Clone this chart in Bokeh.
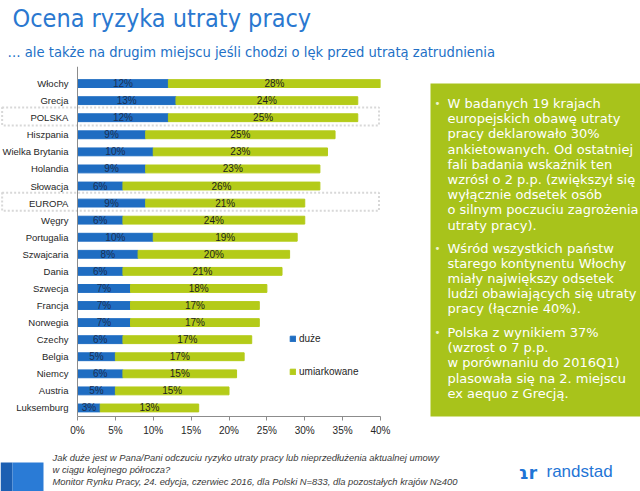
from bokeh.plotting import figure
from bokeh.layouts import column, row
from bokeh.models import (Range1d, FixedTicker, PrintfTickFormatter, Label, BoxAnnotation,
                          ColumnDataSource, Legend, LegendItem, Span)
from bokeh.core.properties import value
from bokeh.embed import file_html
from bokeh.resources import INLINE

# ---------------- data ----------------
countries = ["Włochy", "Grecja", "POLSKA", "Hiszpania", "Wielka Brytania", "Holandia",
             "Słowacja", "EUROPA", "Węgry", "Portugalia", "Szwajcaria", "Dania", "Szwecja",
             "Francja", "Norwegia", "Czechy", "Belgia", "Niemcy", "Austria", "Luksemburg"]
duze = [12, 13, 12, 9, 10, 9, 6, 9, 6, 10, 8, 6, 7, 7, 7, 6, 5, 6, 5, 3]
umiarkowane = [28, 24, 25, 25, 23, 23, 26, 21, 24, 19, 20, 21, 18, 17, 17, 17, 17, 15, 15, 13]
x_ticks = [0, 5, 10, 15, 20, 25, 30, 35, 40]
highlighted = ["POLSKA", "EUROPA"]
series_names = ["duże", "umiarkowane"]

title = "Ocena ryzyka utraty pracy"
subtitle = "… ale także na drugim miejscu jeśli chodzi o lęk przed utratą zatrudnienia"
box_paragraphs = [
    ["W badanych 19 krajach", "europejskich obawę utraty", "pracy deklarowało 30%",
     "ankietowanych. Od ostatniej", "fali badania wskaźnik ten",
     "wzrósł o 2 p.p. (zwiększył się", "wyłącznie odsetek osób",
     "o silnym poczuciu zagrożenia", "utraty pracy)."],
    ["Wśród wszystkich państw", "starego kontynentu Włochy", "miały największy odsetek",
     "ludzi obawiających się utraty", "pracy (łącznie 40%)."],
    ["Polska z wynikiem 37%", "(wzrost o 7 p.p.", "w porównaniu do 2016Q1)",
     "plasowała się na 2. miejscu", "ex aequo z Grecją."],
]
footer = ["Jak duże jest w Pana/Pani odczuciu ryzyko utraty pracy lub nieprzedłużenia aktualnej umowy",
          "w ciągu kolejnego półrocza?",
          "Monitor Rynku Pracy, 24. edycja, czerwiec 2016, dla Polski N=833, dla pozostałych krajów N≥400"]

# ---------------- styling ----------------
BLUE = "#1f6dc2"
GREEN = "#b4cb19"
BOXGREEN = "#a8c31b"
TITLE_BLUE = "#2a78d0"
SANS = "Liberation Sans"
COND = "DejaVu Sans Condensed"
VERD = "DejaVu Sans"


def blank(w, h, x0, x1, y0, y1, **kw):
    """Decoration panel whose data units are the page's pixel coordinates."""
    f = figure(width=w, height=h, output_backend="svg", toolbar_location=None,
               x_axis_type=None, y_axis_type=None,
               x_range=Range1d(x0, x1), y_range=Range1d(y1, y0),
               min_border=0, **kw)
    f.outline_line_color = None
    f.xgrid.visible = False
    f.ygrid.visible = False
    return f


# ---------------- header ----------------
head = blank(640, 66, 0, 640, 0, 66)
head.add_layout(Label(x=12, y=18, text=title, text_baseline="middle", text_font=COND,
                      text_font_size="25px", text_color=TITLE_BLUE))
head.add_layout(Label(x=7, y=51, text=subtitle, text_baseline="middle", text_font=COND,
                      text_font_size="14.6px", text_color="#2270c6"))

# ---------------- main bar chart ----------------
n = len(countries)
ypos = [n - 1 - i for i in range(n)]
src = ColumnDataSource(dict(
    y=ypos,
    country=countries,
    duze=duze,
    total=[a + b for a, b in zip(duze, umiarkowane)],
    mid1=[a / 2 for a in duze],
    mid2=[a + b / 2 for a, b in zip(duze, umiarkowane)],
    lab1=[f"{a}%" for a in duze],
    lab2=[f"{b}%" for b in umiarkowane],
))

main = figure(width=422, height=379, output_backend="svg", toolbar_location=None,
              x_range=Range1d(-77 / 7.575, 40), y_range=Range1d(-0.5, n + 0.0),
              y_axis_type=None,
              min_border_left=0, min_border_right=42, min_border_top=0, min_border_bottom=29)
main.outline_line_color = None
main.xgrid.visible = False
main.ygrid.visible = False

r1 = main.hbar(y="y", left=0, right="duze", height=0.46, color=BLUE, source=src)
r2 = main.hbar(y="y", left="duze", right="total", height=0.46, color=GREEN, source=src)

main.text(x="mid1", y="y", text="lab1", source=src, text_align="center",
          text_baseline="middle", text_font=value(SANS), text_font_size="10px",
          text_color="#1b2f52")
main.text(x="mid2", y="y", text="lab2", source=src, text_align="center",
          text_baseline="middle", text_font=value(SANS), text_font_size="10px",
          text_color="#1e1e1e")

# category labels + category axis line
main.text(x=-1.2, y="y", text="country", source=src, text_align="right",
          text_baseline="middle", text_font=value(SANS), text_font_size="9.5px",
          text_color="#262626")
main.add_layout(Span(location=0, dimension="height", line_color="#8c8c8c", line_width=1))

xa = main.xaxis[0]
xa.ticker = FixedTicker(ticks=x_ticks)
xa.bounds = (0, 40)
xa.formatter = PrintfTickFormatter(format="%d%%")
xa.major_label_text_font = SANS
xa.major_label_text_font_size = "10px"
xa.major_label_text_color = "#262626"
xa.axis_line_color = "#8c8c8c"
xa.major_tick_line_color = "#8c8c8c"
xa.major_tick_out = 4
xa.major_tick_in = 0
xa.minor_tick_line_color = None
xa.major_label_standoff = 4

# highlight boxes around POLSKA and EUROPA
for name in highlighted:
    yv = ypos[countries.index(name)]
    main.add_layout(BoxAnnotation(left=-9.95, right=39.8, top=yv + 0.6, bottom=yv - 0.45,
                                  fill_alpha=0, line_color="#7f7f7f", line_width=2,
                                  line_dash="2 2"))

legend = Legend(items=[LegendItem(label=series_names[0], renderers=[r1]),
                       LegendItem(label=series_names[1], renderers=[r2])],
                location=(289, 38), orientation="vertical", glyph_width=7, glyph_height=7,
                label_height=13, spacing=20, padding=0, margin=0, label_standoff=3,
                border_line_color=None, background_fill_alpha=0,
                label_text_font=SANS, label_text_font_size="10px",
                label_text_color="#262626")
main.add_layout(legend)

# ---------------- side text box ----------------
# frame aligned with the chart frame: page rows 66..416
side = blank(218, 379, 422, 640, 66, 416, min_border_bottom=29)
side.add_layout(BoxAnnotation(left=430, right=640, top=83, bottom=417,
                              fill_color=BOXGREEN, fill_alpha=1, line_color=None))
line_h = 15.2
starts = [103, 247.5, 332]
for para, y0 in zip(box_paragraphs, starts):
    side.add_layout(Label(x=434, y=y0, text="•", text_baseline="middle", text_font=VERD,
                          text_font_size="10px", text_color="#eef3d0"))
    for k, line in enumerate(para):
        side.add_layout(Label(x=447, y=y0 + k * line_h, text=line, text_baseline="middle",
                              text_font=VERD, text_font_size="13px", text_color="white"))

# ---------------- footer ----------------
foot = blank(640, 46, 0, 640, 445, 491)
for k, line in enumerate(footer):
    foot.add_layout(Label(x=52, y=457 + k * 12, text=line, text_baseline="middle",
                          text_font=SANS, text_font_size="9.4px", text_font_style="italic",
                          text_color="#3a3a3a"))
foot.add_layout(BoxAnnotation(left=0, right=12, top=462, bottom=491,
                              fill_color="#1c5fb2", fill_alpha=1, line_color=None))
foot.add_layout(BoxAnnotation(left=12, right=43, top=462, bottom=491,
                              fill_color="#2a7bd6", fill_alpha=1, line_color=None))
foot.add_layout(Label(x=518, y=472, text="ɿr", text_baseline="middle", text_font=VERD,
                      text_font_size="17px", text_font_style="bold", text_color="#1f75d6"))
foot.add_layout(Label(x=546, y=471, text="randstad", text_baseline="middle", text_font=SANS,
                      text_font_size="17px", text_color="#1f75d6"))

page = column(head, row(main, side), foot)
open("out.html", "w").write(file_html(page, INLINE))
